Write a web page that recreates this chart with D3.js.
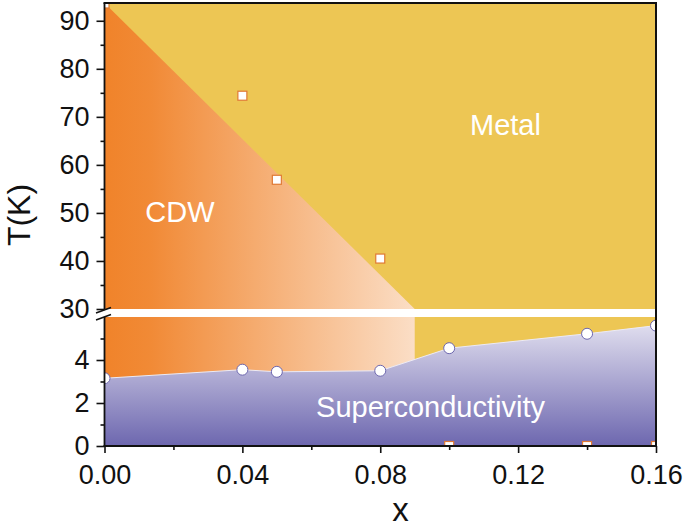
<!DOCTYPE html>
<html><head><meta charset="utf-8">
<script src="https://cdn.jsdelivr.net/npm/d3@7"></script>
<style>
body{margin:0;background:#fff;}
svg{display:block;font-family:"Liberation Sans",Arial,sans-serif;}
</style></head>
<body>
<svg id="chart" width="685" height="527"></svg>
<script>
// ---- data ----
const cdwX = [0, 0.04, 0.05, 0.08];
const cdwT = [93.6, 74.4, 56.9, 40.5];
const cdwLineX = [0, 0.09];
const cdwLineT = [93.7, 30];
const zeroX = [0.10, 0.14, 0.16];
const zeroT = [0, 0, 0];
const scX = [0, 0.04, 0.05, 0.08, 0.10, 0.14, 0.16];
const scT = [3.15, 3.55, 3.45, 3.5, 4.55, 5.22, 5.6];
const xTicks = [0, 0.04, 0.08, 0.12, 0.16];
const xMinor = [0.02, 0.06, 0.10, 0.14];
const yTopTicks = [30, 40, 50, 60, 70, 80, 90];
const yTopMinor = [35, 45, 55, 65, 75, 85];
const yBotTicks = [0, 2, 4];
const yBotMinor = [1, 3, 5];
const topDomain = [30, 93.7];
const botDomain = [0, 6];
const xDomain = [0, 0.16];

// ---- layout ----
const L = 104.5, R = 656, T0 = 3, T1 = 309, B0 = 317, B1 = 446;
const svg = d3.select("#chart");
const x = d3.scaleLinear().domain(xDomain).range([L, R]);
const yT = d3.scaleLinear().domain(topDomain).range([T1, T0]);
const yB = d3.scaleLinear().domain(botDomain).range([B1, B0]);

const defs = svg.append("defs");
const cg = defs.append("linearGradient").attr("id","cdwGrad")
  .attr("gradientUnits","userSpaceOnUse")
  .attr("x1", x(0)).attr("x2", x(cdwLineX[1])).attr("y1",0).attr("y2",0);
cg.append("stop").attr("offset","0").attr("stop-color","#F0832A");
cg.append("stop").attr("offset","0.15").attr("stop-color","#F18A36");
cg.append("stop").attr("offset","1").attr("stop-color","#FBDEC6");
const sg = defs.append("linearGradient").attr("id","scGrad")
  .attr("gradientUnits","userSpaceOnUse")
  .attr("x1",0).attr("x2",0).attr("y1", yB(5.8)).attr("y2", yB(0));
sg.append("stop").attr("offset","0").attr("stop-color","#E3E1F0");
sg.append("stop").attr("offset","1").attr("stop-color","#6D67AF");
defs.append("clipPath").attr("id","clipTop").append("rect")
  .attr("x",L).attr("y",T0).attr("width",R-L).attr("height",T1-T0);
defs.append("clipPath").attr("id","clipBot").append("rect")
  .attr("x",L).attr("y",B0).attr("width",R-L).attr("height",B1-B0);

const yellow = "#EDC654";

// ---- top panel ----
const gT = svg.append("g").attr("clip-path","url(#clipTop)");
gT.append("rect").attr("x",L).attr("y",T0).attr("width",R-L).attr("height",T1-T0).attr("fill",yellow);
const cdwPoly = [[cdwLineX[0], cdwLineT[0]], [cdwLineX[1], cdwLineT[1]], [0, topDomain[0]]];
gT.append("path")
  .attr("d", d3.line().x(d=>x(d[0])).y(d=>yT(d[1]))(cdwPoly) + "Z")
  .attr("fill","url(#cdwGrad)");
gT.selectAll("rect.sq").data(cdwX.map((v,i)=>[v,cdwT[i]])).enter().append("rect")
  .attr("class","sq")
  .attr("x",d=>x(d[0])-4.5).attr("y",d=>yT(d[1])-4.5).attr("width",9).attr("height",9)
  .attr("fill","#fff").attr("stroke","#E07A34").attr("stroke-width",1.2);

// ---- bottom panel ----
const gB = svg.append("g").attr("clip-path","url(#clipBot)");
gB.append("rect").attr("x",L).attr("y",B0).attr("width",R-L).attr("height",B1-B0).attr("fill",yellow);
gB.append("rect").attr("x",x(0)).attr("y",yB(botDomain[1])).attr("width",x(cdwLineX[1])-x(0))
  .attr("height",yB(0)-yB(botDomain[1])).attr("fill","url(#cdwGrad)");
const scPts = scX.map((v,i)=>[v,scT[i]]);
const area = d3.area().x(d=>x(d[0])).y0(yB(0)).y1(d=>yB(d[1]));
gB.append("path").attr("d", area(scPts)).attr("fill","url(#scGrad)");
gB.append("path").attr("d", d3.line().x(d=>x(d[0])).y(d=>yB(d[1]))(scPts))
  .attr("fill","none").attr("stroke","#ECEAF4").attr("stroke-width",1);
gB.selectAll("rect.sq").data(zeroX.map((v,i)=>[v,zeroT[i]])).enter().append("rect")
  .attr("class","sq")
  .attr("x",d=>x(d[0])-4.5).attr("y",d=>yB(d[1])-4.5).attr("width",9).attr("height",9)
  .attr("fill","#fff").attr("stroke","#E07A34").attr("stroke-width",1.2);
gB.selectAll("circle").data(scPts).enter().append("circle")
  .attr("cx",d=>x(d[0])).attr("cy",d=>yB(d[1])).attr("r",5.5)
  .attr("fill","#fff").attr("stroke","#6D67AF").attr("stroke-width",1);

// ---- labels in plot ----
const txt = (s, px, py, anchor) => svg.append("text").attr("x",px).attr("y",py)
  .attr("fill","#fff").attr("font-size",29).attr("text-anchor",anchor||"start").text(s);
txt("Metal", 505.5, 135, "middle");
txt("CDW", 180, 222, "middle");
txt("Superconductivity", 430.5, 417, "middle");

// ---- axes ----
const fs = 27;
function styleAxis(g){
  g.select(".domain").remove();
  g.selectAll(".tick line").attr("stroke","#111").attr("stroke-width",1.6);
  g.selectAll(".tick text").attr("font-size",fs).attr("fill","#111")
    .attr("font-family","'Liberation Sans',Arial,sans-serif");
}
const axT = svg.append("g").attr("transform",`translate(${L},0)`)
  .call(d3.axisLeft(yT).tickValues(yTopTicks).tickSize(8).tickPadding(7).tickFormat(d3.format("d")));
styleAxis(axT);
const axTm = svg.append("g").attr("transform",`translate(${L},0)`)
  .call(d3.axisLeft(yT).tickValues(yTopMinor).tickSize(4).tickFormat(""));
styleAxis(axTm);
const axB = svg.append("g").attr("transform",`translate(${L},0)`)
  .call(d3.axisLeft(yB).tickValues(yBotTicks).tickSize(8).tickPadding(7).tickFormat(d3.format("d")));
styleAxis(axB);
const axBm = svg.append("g").attr("transform",`translate(${L},0)`)
  .call(d3.axisLeft(yB).tickValues(yBotMinor).tickSize(4).tickFormat(""));
styleAxis(axBm);
const axX = svg.append("g").attr("transform",`translate(0,${B1})`)
  .call(d3.axisBottom(x).tickValues(xTicks).tickSize(7).tickPadding(12).tickFormat(d3.format(".2f")));
styleAxis(axX);
const axXm = svg.append("g").attr("transform",`translate(0,${B1})`)
  .call(d3.axisBottom(x).tickValues(xMinor).tickSize(4).tickFormat(""));
styleAxis(axXm);

// frame lines
const ln = (x1,y1,x2,y2,w) => svg.append("line").attr("x1",x1).attr("y1",y1).attr("x2",x2).attr("y2",y2)
  .attr("stroke","#111").attr("stroke-width",w||1.8);
ln(L, T0, L, T1);
ln(L, B0, L, B1+1);
ln(L-1, B1, R+1, B1);
ln(L-1, T0, R+1, T0, 2);
ln(R, T0-1, R, B1+1, 2);
// break marks
ln(96, 313, 111, 307.5, 1.6);
ln(96, 320, 111, 314.5, 1.6);

// axis titles
svg.append("text").attr("transform","translate(30,215) rotate(-90)")
  .attr("text-anchor","middle").attr("font-size",32).attr("fill","#111").text("T(K)");
svg.append("text").attr("x",400.5).attr("y",521).attr("text-anchor","middle")
  .attr("font-size",33).attr("fill","#111").text("x");
</script>
</body></html>
